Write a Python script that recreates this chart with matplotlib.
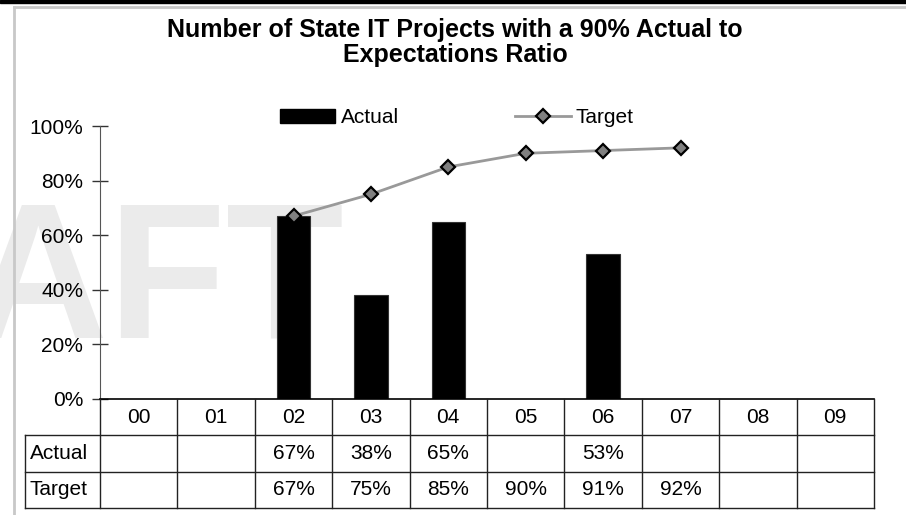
import numpy as np
import matplotlib
matplotlib.use("Agg")
import matplotlib.pyplot as plt
from matplotlib.lines import Line2D
from matplotlib.patches import Patch, Rectangle

plt.rcParams['font.family'] = ['Liberation Sans', 'DejaVu Sans']

years = ['00', '01', '02', '03', '04', '05', '06', '07', '08', '09']
actual = [np.nan, np.nan, 67, 38, 65, np.nan, 53, np.nan, np.nan, np.nan]
target = [np.nan, np.nan, 67, 75, 85, 90, 91, 92, np.nan, np.nan]
yticks = [0, 20, 40, 60, 80, 100]

W, H = 906, 515
fs = 15
fig = plt.figure(figsize=(W / 100, H / 100), dpi=100)

def fx(px):
    return px / W

def fy(py):
    return 1 - py / H

# frame + top rule
fig.patches.append(Rectangle((0, fy(3)), 1, 3 / H, transform=fig.transFigure,
                             color='black', zorder=5))
fig.lines.append(Line2D([fx(13.5), fx(13.5)], [fy(7), 0], transform=fig.transFigure,
                        color='#c8c8c8', lw=2))
fig.lines.append(Line2D([fx(13.5), 1], [fy(7), fy(7)], transform=fig.transFigure,
                        color='#c8c8c8', lw=2))

# watermark
fig.text(fx(344), fy(337), 'DRAFT', fontsize=139, fontweight='bold', color='#ebebeb',
         ha='right', va='baseline', zorder=-1)

x0, x1 = 100, 874
ytop, ybot = 126, 399
ax = fig.add_axes([fx(x0), fy(ybot), fx(x1) - fx(x0), (ybot - ytop) / H])
ax.set_facecolor('none')
n = len(years)
xs = np.arange(n) + 0.5
a = np.array(actual, dtype=float)
t = np.array(target, dtype=float)

ax.bar(xs, a / 100, width=0.43, color='black', edgecolor='#333333', lw=0.8, zorder=2)
ax.plot(xs, t / 100, color='#999999', lw=2, marker='D', ms=7, mfc='#808080',
        mec='black', mew=1.6, zorder=3)

ax.set_xlim(0, n)
ax.set_ylim(0, 1)
ax.set_yticks([v / 100 for v in yticks])
ax.set_yticklabels(['%d%%' % v for v in yticks], fontsize=fs)
ax.tick_params(axis='y', direction='inout', length=12, width=1, pad=6, color='#333333')
ax.set_xticks([])
for s in ['top', 'right']:
    ax.spines[s].set_visible(False)
ax.spines['left'].set_color('#555555')
ax.spines['bottom'].set_color('black')
ax.spines['bottom'].set_linewidth(1.2)

# legend
handles = [Patch(facecolor='black', edgecolor='black', label='Actual'),
           Line2D([], [], color='#999999', lw=2, marker='D', ms=7, mfc='#808080',
                  mec='black', mew=1.6, label='Target')]
fig.legend(handles=handles, ncol=2, loc='center', bbox_to_anchor=(fx(457), fy(118)),
           frameon=False, fontsize=fs, handlelength=2.65, handleheight=0.68,
           handletextpad=0.25, columnspacing=5.6, borderpad=0)

# title
fig.text(fx(455), fy(37), 'Number of State IT Projects with a 90% Actual to',
         fontsize=18, fontweight='bold', ha='center', va='baseline')
fig.text(fx(455), fy(62), 'Expectations Ratio',
         fontsize=18, fontweight='bold', ha='center', va='baseline')

# data table
tl = 25
tb = 508
tax = fig.add_axes([fx(tl), fy(tb), fx(x1) - fx(tl), (tb - ybot) / H])
left = -(x0 - tl) / ((x1 - x0) / n)
tax.set_xlim(left, n)
tax.set_ylim(3, 0)
tax.axis('off')
lc = '#222222'
for i in range(n + 1):
    tax.plot([i, i], [0, 3], color=lc, lw=1, clip_on=False)
tax.plot([left, left], [1, 3], color=lc, lw=1, clip_on=False)
for r in [1, 2, 3]:
    tax.plot([left, n], [r, r], color=lc, lw=1, clip_on=False)

for i, y in enumerate(years):
    tax.text(i + 0.5, 0.5, y, ha='center', va='center', fontsize=fs)
    if not np.isnan(a[i]):
        tax.text(i + 0.5, 1.5, '%d%%' % a[i], ha='center', va='center', fontsize=fs)
    if not np.isnan(t[i]):
        tax.text(i + 0.5, 2.5, '%d%%' % t[i], ha='center', va='center', fontsize=fs)
tax.text(left + 0.06, 1.5, 'Actual', ha='left', va='center', fontsize=fs)
tax.text(left + 0.06, 2.5, 'Target', ha='left', va='center', fontsize=fs)

fig.savefig('out.png', dpi=100)
